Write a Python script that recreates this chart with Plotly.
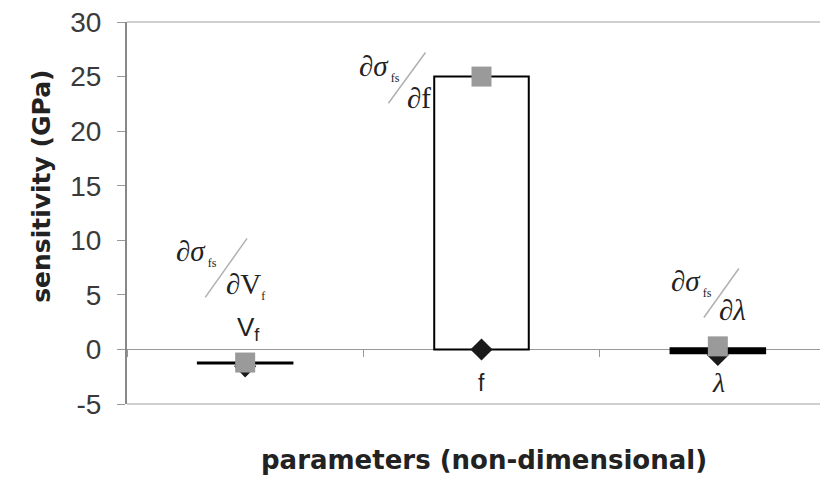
import plotly.graph_objects as go

# ---- data ----
categories = ["Vf", "f", "λ"]
bar_low = [-1.3, 0.0, -0.35]
bar_high = [-1.2, 25.0, 0.1]
square_vals = [-1.2, 25.0, 0.28]
diamond_vals = [-1.55, 0.0, -0.5]
y_ticks = [-5, 0, 5, 10, 15, 20, 25, 30]
y_tick_text = ["-5", "0", "5", "10", "15", "20", "25", "30"]

# ---- figure ----
fig = go.Figure()

bar_fill = ["white" if (h - l) > 2 else "black" for l, h in zip(bar_low, bar_high)]
fig.add_trace(go.Bar(
    x=categories,
    y=[h - l for l, h in zip(bar_low, bar_high)],
    base=bar_low,
    width=0.4,
    marker=dict(color=bar_fill, line=dict(color="black", width=2)),
    showlegend=False,
))
fig.add_trace(go.Scatter(
    x=categories, y=diamond_vals, mode="markers",
    marker=dict(symbol="diamond", size=17, color="#1a1a1a"),
    showlegend=False,
))
fig.add_trace(go.Scatter(
    x=categories, y=square_vals, mode="markers",
    marker=dict(symbol="square", size=20, color="#9a9a9a"),
    showlegend=False,
))

serif = "Liberation Serif"
ann = []

def txt(x, y, text, xanchor="center", size=29, font=serif, color="#222"):
    ann.append(dict(x=x, y=y, xref="x", yref="y", text=text, showarrow=False,
                    xanchor=xanchor, yanchor="middle",
                    font=dict(family=font, size=size, color=color)))

num = "∂<i>σ</i><sub><span style='font-size:12px'> fs</span></sub>"

# Vf annotation
txt(-0.11, 8.9, num, xanchor="right")
txt(-0.09, 5.9, "∂V<sub><span style='font-size:12px'>f</span></sub>", xanchor="left")
# f annotation
txt(0.665, 25.8, num, xanchor="right")
txt(0.675, 23.0, "∂f", xanchor="left")
# lambda annotation
txt(1.985, 6.1, num, xanchor="right")
txt(1.995, 3.6, "∂<i>λ</i>", xanchor="left")

# category labels
txt(0.013, 1.9, "V<sub>f</sub>", font="Liberation Sans", size=26)
txt(1.0, -3.1, "f", font="Liberation Sans", size=23)
txt(2.004, -3.0, "<i>λ</i>", font=serif, size=28)

# axis titles
ann.append(dict(x=-0.121, y=0.569, xref="paper", yref="paper", text="<b>sensitivity (GPa)</b>",
                textangle=-90, showarrow=False, xanchor="center", yanchor="middle",
                font=dict(family="DejaVu Sans", size=25, color="#222")))
ann.append(dict(x=0.503, y=-0.147, xref="paper", yref="paper", text="<b>parameters (non-dimensional)</b>",
                showarrow=False, xanchor="center", yanchor="middle",
                font=dict(family="DejaVu Sans", size=26, color="#222")))

shapes = []
slash = dict(type="line", xref="x", yref="y", line=dict(color="#b0b0b0", width=1.5))
for x0, y0, x1, y1 in [(-0.169, 4.77, 0.008, 10.17), (0.606, 22.55, 0.763, 27.2), (1.941, 2.93, 2.089, 7.42)]:
    s = dict(slash); s.update(x0=x0, y0=y0, x1=x1, y1=y1); shapes.append(s)
for yp in (1, 0):
    shapes.append(dict(type="line", xref="paper", yref="paper", x0=0, x1=1, y0=yp, y1=yp,
                       layer="below", line=dict(color="#a0a0a0", width=1)))

fig.update_layout(
    width=828, height=486,
    margin=dict(l=119, r=0, t=14, b=90, autoexpand=False),
    paper_bgcolor="white", plot_bgcolor="white",
    showlegend=False, hovermode=False,
    annotations=ann, shapes=shapes,
    xaxis=dict(
        type="category", range=[-0.5, 2.5], automargin=False,
        showticklabels=False, showgrid=False, zeroline=False,
        tickson="boundaries", ticks="outside", ticklen=7, tickcolor="#999",
        showline=True, linecolor="#999", linewidth=1,
        anchor="free", position=5 / 35, layer="below traces",
    ),
    yaxis=dict(
        range=[-5, 30], tickvals=y_ticks, ticktext=y_tick_text, automargin=False,
        showgrid=False, zeroline=False,
        ticks="outside", ticklen=8, tickcolor="#999",
        showline=True, linecolor="#888", linewidth=2,
        ticklabelstandoff=10, ticklabeloverflow="allow",
        tickfont=dict(family="Liberation Sans", size=28, color="#3a3a3a"),
    ),
)

fig.write_html("out.html")
